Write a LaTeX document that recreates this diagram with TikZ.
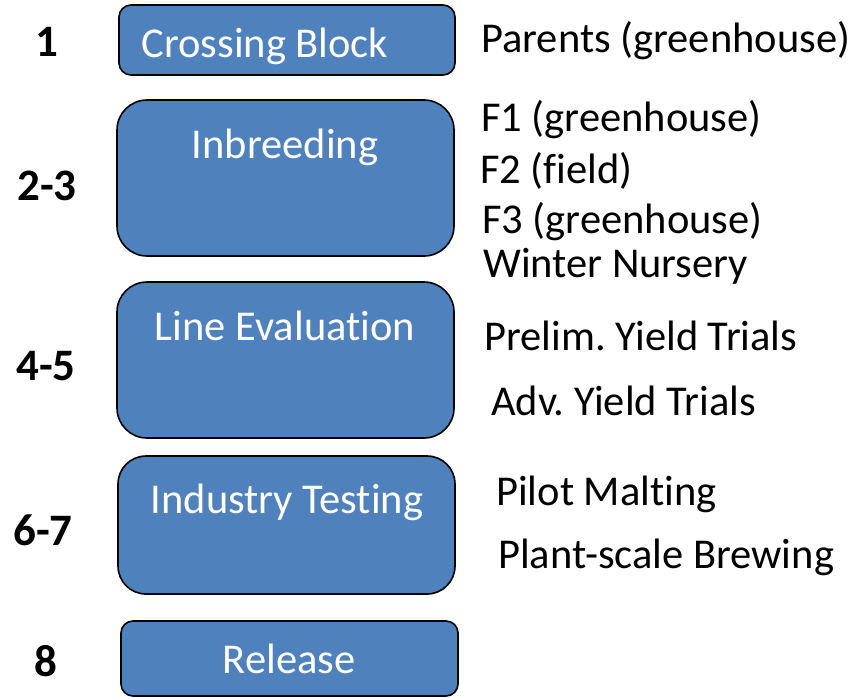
\documentclass[tikz,border=0pt]{standalone}
\usepackage{fontspec}
\setmainfont{Carlito}[Ligatures=NoCommon]
\frenchspacing
\definecolor{boxblue}{HTML}{4F81BD}
\tikzset{
  stage/.style={draw=black, line width=1.6pt, fill=boxblue, rectangle, inner sep=0pt},
  stagetext/.style={text=white, font=\fontsize{42.5}{50}\selectfont, inner sep=0pt, anchor=base},
  yeartext/.style={text=black, font=\bfseries\fontsize{45}{54}\selectfont, inner sep=0pt, anchor=base},
  sidetext/.style={text=black, font=\fontsize{42.5}{50}\selectfont, inner sep=0pt, anchor=base west},
}
\begin{document}
\begin{tikzpicture}[x=1pt,y=-1pt]
\useasboundingbox (0,0) rectangle (856,697);
% boxes
\node[stage, rounded corners=12pt, minimum width=336pt, minimum height=70pt] (b1) at (287,40) {};
\node[stage, rounded corners=30pt, minimum width=337pt, minimum height=156pt] (b2) at (285.5,178) {};
\node[stage, rounded corners=30pt, minimum width=337pt, minimum height=156pt] (b3) at (285.5,360) {};
\node[stage, rounded corners=28pt, minimum width=337pt, minimum height=138pt] (b4) at (286.5,525) {};
\node[stage, rounded corners=12pt, minimum width=337pt, minimum height=75pt] (b5) at (289.5,658.5) {};
% box texts
\node[stagetext] (t1) at (265,57) {Crossing Block};
\node[stagetext] (t2) at (285,158) {Inbreeding};
\node[stagetext] (t3) at (285,340) {Line Evaluation};
\node[stagetext] (t4) at (287,513) {Industry Testing};
\node[stagetext] (t5) at (289,673) {Release};
% years
\node[yeartext] (y1) at (47,56) {1};
\node[yeartext] (y2) at (47,200) {2-3};
\node[yeartext] (y3) at (46,380) {4-5};
\node[yeartext] (y4) at (43,545) {6-7};
\node[yeartext] (y5) at (46,676) {8};
% side texts
\node[sidetext] (s1) at (481,52) {Parents (greenhouse)};
\node[sidetext] (s2) at (481,131) {F1 (greenhouse)};
\node[sidetext] (s3) at (480,183) {F2 (field)};
\node[sidetext] (s4) at (482,233) {F3 (greenhouse)};
\node[sidetext] (s5) at (483,277) {Winter Nursery};
\node[sidetext] (s6) at (484,350) {Prelim. Yield Trials};
\node[sidetext] (s7) at (491,415) {Adv. Yield Trials};
\node[sidetext] (s8) at (496,505) {Pilot Malting};
\node[sidetext] (s9) at (498,568) {Plant-scale Brewing};
\end{tikzpicture}
\end{document}
